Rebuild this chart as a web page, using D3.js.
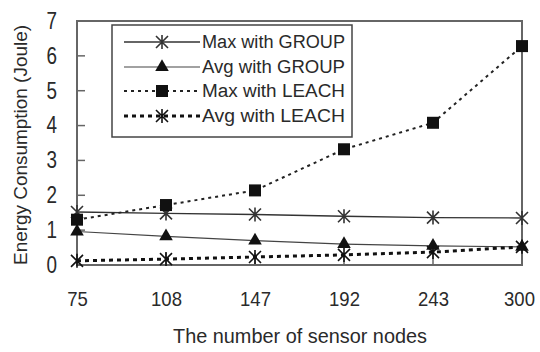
<!DOCTYPE html>
<html><head><meta charset="utf-8">
<script src="https://cdn.jsdelivr.net/npm/d3@7"></script>
<style>body{margin:0;background:#fff}svg{display:block}text{font-family:"Liberation Sans",Arial,sans-serif;fill:#2a2a2a}</style>
</head><body><svg id="c" width="540" height="352"></svg>
<script>
const categories = ["75","108","147","192","243","300"];
const maxGroup = [1.52, 1.48, 1.45, 1.40, 1.36, 1.35];
const avgGroup = [0.96, 0.82, 0.70, 0.60, 0.55, 0.52];
const maxLeach = [1.30, 1.72, 2.14, 3.32, 4.08, 6.28];
const avgLeach = [0.12, 0.17, 0.23, 0.29, 0.37, 0.52];
const yTicks = [0,1,2,3,4,5,6,7];
const seriesNames = ["Max with GROUP","Avg with GROUP","Max with LEACH","Avg with LEACH"];

const svg = d3.select("#c");
const L=77, R=522, T=21, B=265;
const x = d3.scalePoint().domain(categories).range([L,R]);
const y = d3.scaleLinear().domain([0,7]).range([B,T]);

const series = [
  {name:seriesNames[0], data:maxGroup, dash:null, w:1.4, color:"#333", marker:"star"},
  {name:seriesNames[1], data:avgGroup, dash:null, w:1.1, color:"#444", marker:"tri"},
  {name:seriesNames[2], data:maxLeach, dash:"3,4", w:2, color:"#222", marker:"sq"},
  {name:seriesNames[3], data:avgLeach, dash:"4,4", w:3, color:"#111", marker:"star"}
];

svg.append("rect").attr("x",L).attr("y",T).attr("width",R-L).attr("height",B-T)
  .attr("fill","none").attr("stroke","#666").attr("stroke-width",2);

const yAxis = d3.axisLeft(y).tickValues(yTicks).tickSize(0).tickPadding(20).tickFormat(d3.format("d"));
const gy = svg.append("g").attr("transform",`translate(${L},0)`).call(yAxis);
gy.select(".domain").remove();
gy.selectAll("text").attr("font-size",23).attr("fill","#2a2a2a").style("font-family","'Liberation Sans',Arial,sans-serif")
  .attr("textLength",d=>String(d).length*10.5).attr("lengthAdjust","spacingAndGlyphs");
svg.append("g").selectAll("line").data(yTicks.slice(1,7)).join("line")
  .attr("x1",L).attr("x2",L+8).attr("y1",d=>y(d)).attr("y2",d=>y(d))
  .attr("stroke","#666").attr("stroke-width",1.5);

const xAxis = d3.axisBottom(x).tickSize(0).tickPadding(26);
const gx = svg.append("g").attr("transform",`translate(0,${B})`).call(xAxis);
gx.select(".domain").remove();
gx.selectAll("text").attr("font-size",21).attr("fill","#2a2a2a").style("font-family","'Liberation Sans',Arial,sans-serif")
  .attr("textLength",d=>String(d).length*10.3).attr("lengthAdjust","spacingAndGlyphs")
  .attr("dx",(d,i)=>i===categories.length-1?-3:0);
svg.append("g").selectAll("line").data(categories.slice(1,5)).join("line")
  .attr("x1",d=>x(d)).attr("x2",d=>x(d)).attr("y1",B).attr("y2",B-12)
  .attr("stroke","#666").attr("stroke-width",1.5);

svg.append("text").attr("x",300).attr("y",343).attr("text-anchor","middle").attr("font-size",21)
  .attr("textLength",254).attr("lengthAdjust","spacingAndGlyphs").text("The number of sensor nodes");
svg.append("text").attr("transform","translate(27,145) rotate(-90)").attr("text-anchor","middle").attr("font-size",19)
  .attr("textLength",240).attr("lengthAdjust","spacingAndGlyphs").text("Energy Consumption (Joule)");

function drawMarker(g, type, cx, cy, color){
  if(type==="star"){
    const s=6;
    g.append("path").attr("d",`M${cx-s},${cy-s}L${cx+s},${cy+s}M${cx-s},${cy+s}L${cx+s},${cy-s}M${cx},${cy-s-1}L${cx},${cy+s+1}`)
      .attr("stroke",color).attr("stroke-width",1.6).attr("fill","none");
  } else if(type==="tri"){
    g.append("path").attr("d",d3.symbol(d3.symbolTriangle,80)()).attr("transform",`translate(${cx},${cy})`).attr("fill","#111");
  } else {
    g.append("rect").attr("x",cx-6).attr("y",cy-6).attr("width",12).attr("height",12).attr("fill","#111");
  }
}

const line = d3.line().x((d,i)=>x(categories[i])).y(d=>y(d));
series.forEach(s=>{
  const g = svg.append("g");
  g.append("path").datum(s.data).attr("d",line).attr("fill","none")
    .attr("stroke",s.color).attr("stroke-width",s.w).attr("stroke-dasharray",s.dash);
  s.data.forEach((v,i)=>drawMarker(g,s.marker,x(categories[i]),y(v),s.color));
});

const lg = svg.append("g");
lg.append("rect").attr("x",112).attr("y",25).attr("width",240).attr("height",112)
  .attr("fill","#fff").attr("stroke","#444").attr("stroke-width",1.5);
const rowsY=[42,67,91,116];
series.forEach((s,i)=>{
  const yy=rowsY[i];
  lg.append("line").attr("x1",124).attr("x2",200).attr("y1",yy).attr("y2",yy)
    .attr("stroke",s.color).attr("stroke-width",s.w).attr("stroke-dasharray",s.dash);
  drawMarker(lg,s.marker,162,yy,s.color);
  lg.append("text").attr("x",202).attr("y",yy+6).attr("font-size",18)
    .attr("textLength",143).attr("lengthAdjust","spacingAndGlyphs").text(s.name);
});
</script></body></html>
